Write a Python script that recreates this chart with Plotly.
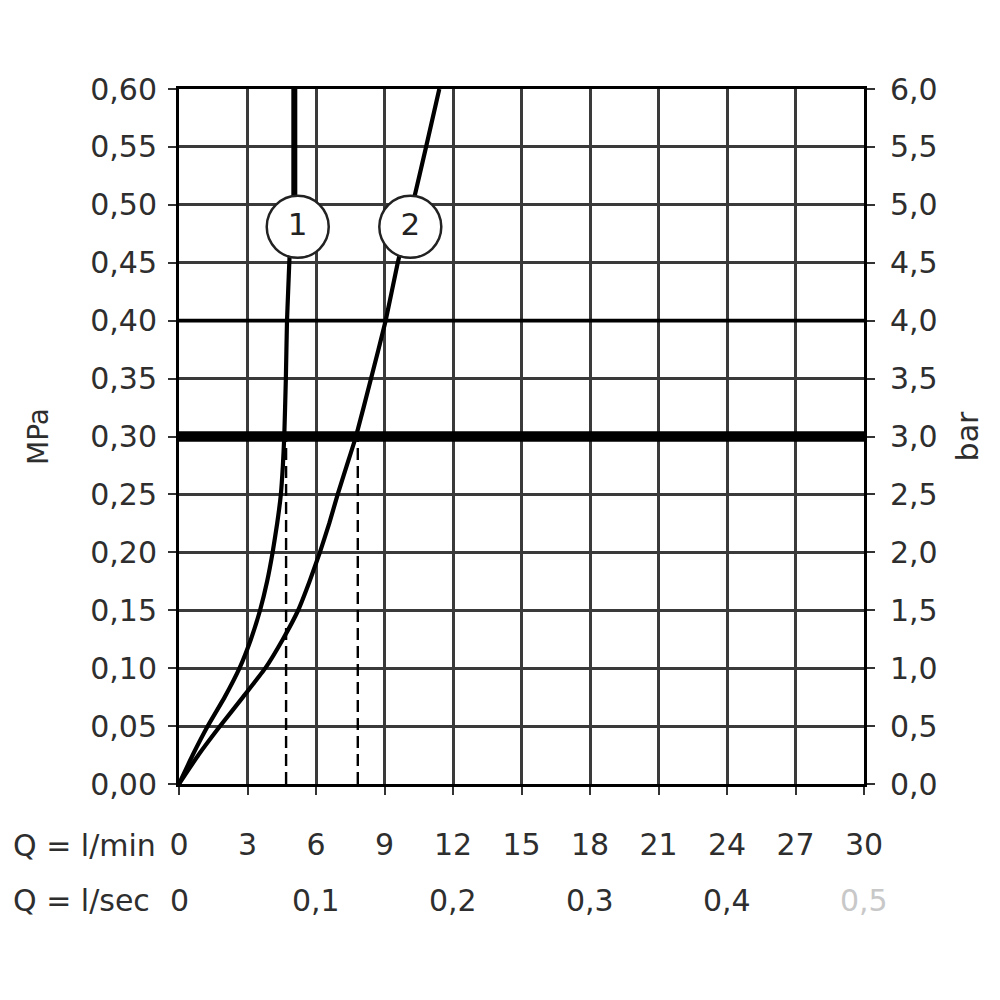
import plotly.graph_objects as go

# ---- data ----
q_ticks = [0, 3, 6, 9, 12, 15, 18, 21, 24, 27, 30]
p_ticks = [0.00, 0.05, 0.10, 0.15, 0.20, 0.25, 0.30, 0.35, 0.40, 0.45, 0.50, 0.55, 0.60]
bar_ticks = [0.0, 0.5, 1.0, 1.5, 2.0, 2.5, 3.0, 3.5, 4.0, 4.5, 5.0, 5.5, 6.0]
lsec_pos = [0, 6, 12, 18, 24, 30]
lsec_labels = ["0", "0,1", "0,2", "0,3", "0,4", "0,5"]

curve1_q = [0, 0.6, 1.26, 2.0, 2.65, 3.15, 3.55, 3.86, 4.1, 4.3, 4.46, 4.55, 4.61, 4.68, 4.73, 4.78, 4.83, 4.9]
curve1_p = [0, 0.025, 0.05, 0.075, 0.10, 0.125, 0.15, 0.175, 0.20, 0.225, 0.25, 0.275, 0.30, 0.35, 0.40, 0.425, 0.45, 0.48]
curve1_top_q = [5.05, 5.05]
curve1_top_p = [0.48, 0.60]

curve2_q = [0, 0.85, 1.8, 2.8, 3.78, 4.55, 5.22, 5.72, 6.17, 6.58, 6.95, 7.35, 7.75, 8.41, 9.05, 9.58, 9.95, 10.3, 10.82, 11.4]
curve2_p = [0, 0.025, 0.05, 0.075, 0.10, 0.125, 0.15, 0.175, 0.20, 0.225, 0.25, 0.275, 0.30, 0.35, 0.40, 0.45, 0.48, 0.506, 0.55, 0.60]

ref_pressure = 0.30
dash_q = [4.69, 7.83]

label_q = [5.2, 10.13]
label_p = [0.481, 0.481]
label_text = ["1", "2"]

FONT = "DejaVu Sans"
TXT = "#2e2e2e"

fig = go.Figure()

# dashed drops
dx, dy = [], []
for q in dash_q:
    dx += [q, q, None]
    dy += [0, ref_pressure, None]
fig.add_trace(go.Scatter(x=dx, y=dy, mode="lines",
                         line=dict(color="black", width=2.4, dash="12px,6px"),
                         hoverinfo="skip", showlegend=False))

fig.add_trace(go.Scatter(x=curve1_q, y=curve1_p, mode="lines", line_shape="spline",
                         line=dict(color="black", width=4.2, smoothing=0.4), showlegend=False))
fig.add_trace(go.Scatter(x=curve1_top_q, y=curve1_top_p, mode="lines",
                         line=dict(color="black", width=6), showlegend=False))
fig.add_trace(go.Scatter(x=curve2_q, y=curve2_p, mode="lines", line_shape="spline",
                         line=dict(color="black", width=4.2, smoothing=0.4), showlegend=False))

fig.add_trace(go.Scatter(x=label_q, y=label_p, mode="markers+text", text=label_text,
                         textposition="middle center",
                         textfont=dict(family=FONT, size=31, color="#222"),
                         marker=dict(size=62, color="white", line=dict(color="#222", width=2.5)),
                         showlegend=False))

# invisible trace for right axis
fig.add_trace(go.Scatter(x=[0, 30], y=[bar_ticks[0], bar_ticks[-1]], yaxis="y2",
                         mode="lines", line=dict(width=0), hoverinfo="skip", showlegend=False,
                         opacity=0))

# emphasised horizontal lines
fig.add_shape(type="rect", xref="paper", x0=0, x1=1, y0=0.3984, y1=0.4016,
              fillcolor="black", line=dict(width=0), layer="above")
fig.add_shape(type="rect", xref="paper", x0=0, x1=1, y0=ref_pressure - 0.0045, y1=ref_pressure + 0.0045,
              fillcolor="black", line=dict(width=0), layer="above")

# second row of x labels (l/sec)
for pos, lab in zip(lsec_pos, lsec_labels):
    fig.add_annotation(x=pos, y=-0.168, xref="x", yref="paper", text=lab,
                       showarrow=False, xanchor="center", yanchor="middle",
                       font=dict(family=FONT, size=30,
                                 color="#c8c8c8" if lab == "0,5" else TXT))

fig.add_annotation(x=-0.245, y=-0.089, xref="paper", yref="paper", text="Q = l/min",
                   showarrow=False, xanchor="left", yanchor="middle",
                   font=dict(family=FONT, size=30, color=TXT))
fig.add_annotation(x=-0.245, y=-0.168, xref="paper", yref="paper", text="Q = l/sec",
                   showarrow=False, xanchor="left", yanchor="middle",
                   font=dict(family=FONT, size=30, color=TXT))

fig.update_layout(
    width=1000, height=1000,
    margin=dict(l=171, r=144, t=81, b=224),
    paper_bgcolor="white", plot_bgcolor="white",
    separators=",.",
    font=dict(family=FONT, size=30, color=TXT),
    xaxis=dict(range=[0, 30], tickvals=q_ticks, ticktext=[str(v) for v in q_ticks],
               showgrid=True, gridcolor="#3a3a3a", gridwidth=2.8,
               showline=True, linecolor="black", linewidth=3, mirror=True,
               ticks="outside", ticklen=8, tickwidth=2, tickcolor="#333",
               ticklabelstandoff=24, zeroline=False, automargin=False,
               tickfont=dict(family=FONT, size=30, color=TXT)),
    yaxis=dict(range=[0, 0.60], tickvals=p_ticks, tickformat=".2f",
               showgrid=True, gridcolor="#3a3a3a", gridwidth=2.8,
               showline=True, linecolor="black", linewidth=3,
               ticks="outside", ticklen=8, tickwidth=2, tickcolor="#333",
               zeroline=False, ticklabelstandoff=5, automargin=False,
               title=dict(text="MPa", standoff=34, font=dict(family=FONT, size=28, color=TXT)),
               tickfont=dict(family=FONT, size=30, color=TXT)),
    yaxis2=dict(range=[0, 6.0], tickvals=bar_ticks, tickformat=".1f", overlaying="y",
                side="right", showgrid=False, zeroline=False, automargin=False,
                showline=True, linecolor="black", linewidth=3,
                ticks="outside", ticklen=8, tickwidth=2, tickcolor="#333",
                ticklabelstandoff=9,
                title=dict(text="bar", standoff=21, font=dict(family=FONT, size=30, color=TXT)),
                tickfont=dict(family=FONT, size=30, color=TXT)),
)

fig.write_html("out.html")
